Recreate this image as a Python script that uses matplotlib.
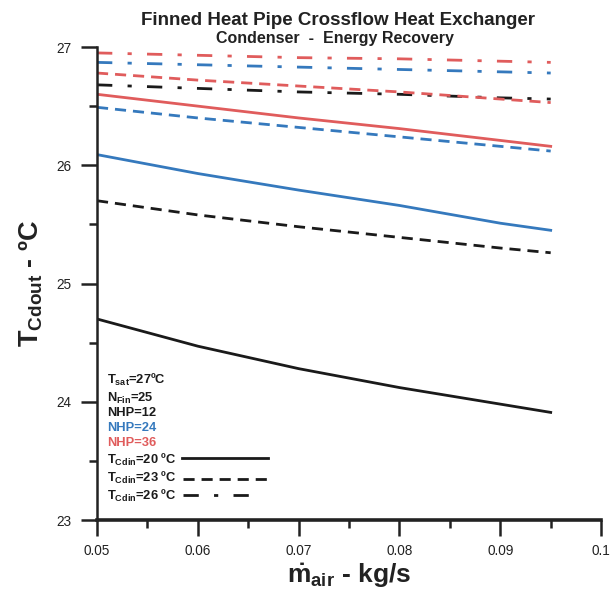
import numpy as np
import matplotlib
matplotlib.use('Agg')
import matplotlib.pyplot as plt
from matplotlib.ticker import MultipleLocator
from matplotlib.lines import Line2D

plt.rcParams['font.family'] = ['Liberation Sans', 'DejaVu Sans']
plt.rcParams['mathtext.fontset'] = 'custom'
plt.rcParams['mathtext.rm'] = 'Liberation Sans'
plt.rcParams['mathtext.bf'] = 'Liberation Sans:bold'

##------------data------------------------------------##
m_air = [0.05, 0.06, 0.07, 0.08, 0.09, 0.095]

# NHP=12
nhp12_t20 = [24.70, 24.47, 24.28, 24.12, 23.98, 23.91]
nhp12_t23 = [25.70, 25.58, 25.48, 25.39, 25.30, 25.26]
nhp12_t26 = [26.68, 26.65, 26.62, 26.60, 26.57, 26.56]
# NHP=24
nhp24_t20 = [26.09, 25.93, 25.79, 25.66, 25.51, 25.45]
nhp24_t23 = [26.49, 26.40, 26.32, 26.24, 26.16, 26.12]
nhp24_t26 = [26.87, 26.85, 26.83, 26.81, 26.79, 26.78]
# NHP=36
nhp36_t20 = [26.60, 26.50, 26.40, 26.31, 26.21, 26.16]
nhp36_t23 = [26.78, 26.72, 26.67, 26.62, 26.56, 26.53]
nhp36_t26 = [26.95, 26.93, 26.91, 26.90, 26.88, 26.87]

c12 = '#1a1a1a'
c24 = '#3579bd'
c36 = '#e05c5c'

solid = '-'
dashed = (0, (4, 2.5))
dashdot = (0, (5.5, 5.5, 1.5, 5.5))

##------------figure-----------------##
fig = plt.figure(figsize=(6.11, 5.92), dpi=100)
ax = fig.add_axes([0.1588, 0.1216, 0.825, 0.799])

lw = 2
ax.plot(m_air, nhp12_t20, color=c12, ls=solid, lw=lw)
ax.plot(m_air, nhp12_t23, color=c12, ls=dashed, lw=lw)
ax.plot(m_air, nhp12_t26, color=c12, ls=dashdot, lw=lw)
ax.plot(m_air, nhp24_t20, color=c24, ls=solid, lw=lw)
ax.plot(m_air, nhp24_t23, color=c24, ls=dashed, lw=lw)
ax.plot(m_air, nhp24_t26, color=c24, ls=dashdot, lw=lw)
ax.plot(m_air, nhp36_t20, color=c36, ls=solid, lw=lw)
ax.plot(m_air, nhp36_t23, color=c36, ls=dashed, lw=lw)
ax.plot(m_air, nhp36_t26, color=c36, ls=dashdot, lw=lw)

ax.set_xlim(0.05, 0.1)
ax.set_ylim(23, 27)
ax.xaxis.set_major_locator(MultipleLocator(0.01))
ax.xaxis.set_minor_locator(MultipleLocator(0.005))
ax.yaxis.set_major_locator(MultipleLocator(1))
ax.yaxis.set_minor_locator(MultipleLocator(0.5))
ax.xaxis.set_major_formatter(plt.FuncFormatter(lambda v, p: '0.1' if abs(v - 0.1) < 1e-9 else '%.2f' % v))
ax.yaxis.set_major_formatter(plt.FuncFormatter(lambda v, p: '%d' % v))

for s in ['top', 'right']:
	ax.spines[s].set_visible(False)
ax.spines['left'].set_linewidth(1.8)
ax.spines['bottom'].set_linewidth(2.6)
ax.spines['left'].set_color('#222222')
ax.spines['bottom'].set_color('#222222')

ax.tick_params(axis='both', which='major', direction='out', length=11.5, width=1.8, colors='#222222', labelsize=9.8)
ax.tick_params(axis='x', which='major', pad=6)
ax.tick_params(axis='y', which='major', pad=7)
ax.tick_params(axis='both', which='minor', direction='out', length=6, width=1.8, colors='#222222')

ax.set_xlabel(r'$\mathbf{\dot{m}_{air}}$ - kg/s', fontsize=19, fontweight='bold', labelpad=2, color='#222222')
ax.set_ylabel(r'$\mathbf{T_{Cdout}}$ - ºC', fontsize=19.5, fontweight='bold', color='#222222')
ax.yaxis.set_label_coords(-0.103, 0.5)

fig.text(0.553, 0.966, 'Finned Heat Pipe Crossflow Heat Exchanger', ha='center', va='center',
		 fontsize=13.5, fontweight='bold', color='#222222')
fig.text(0.548, 0.935, 'Condenser  -  Energy Recovery', ha='center', va='center',
		 fontsize=11.5, fontweight='bold', color='#222222')

##------------legend block-----------------##
def fy(py):
	return 1 - py / 592.0

def fx(px):
	return px / 611.0

notes = [
	(r'$\mathbf{T_{sat}}$=27ºC', c12, 380),
	(r'$\mathbf{N_{Fin}}$=25', c12, 398),
	('NHP=12', c12, 413),
	('NHP=24', c24, 428),
	('NHP=36', c36, 443),
	(r'$\mathbf{T_{Cdin}}$=20 ºC', c12, 460),
	(r'$\mathbf{T_{Cdin}}$=23 ºC', c12, 478),
	(r'$\mathbf{T_{Cdin}}$=26 ºC', c12, 496),
]
for txt, col, py in notes:
	fig.text(fx(107), fy(py), txt, ha='left', va='center', fontsize=9.3, fontweight='bold', color=col)

samples = [(solid, 458, 182, 268), (dashed, 479, 183, 273), (dashdot, 495, 183, 255)]
for ls, py, x0, x1 in samples:
	fig.add_artist(Line2D([fx(x0), fx(x1)], [fy(py), fy(py)], color=c12, ls=ls, lw=lw))

fig.savefig('out.png', dpi=100)
